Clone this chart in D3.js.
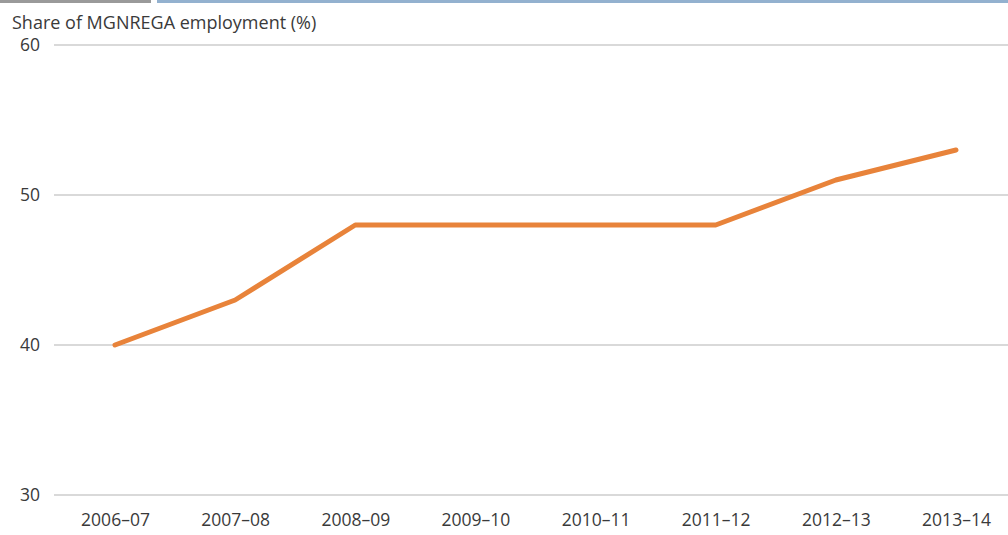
<!DOCTYPE html>
<html>
<head>
<meta charset="utf-8" />
<title>Share of MGNREGA employment</title>
<script src="https://d3js.org/d3.v7.min.js"></script>
<style>
  body { margin: 0; background: #fff; }
  svg text { font-family: "Open Sans", "Noto Sans", sans-serif; fill: #3a3a3a; }
</style>
</head>
<body>
<div id="chart"></div>
<script>
var years = ["2006–07", "2007–08", "2008–09", "2009–10", "2010–11", "2011–12", "2012–13", "2013–14"];
var share = [40, 43, 48, 48, 48, 48, 51, 53];
var yTicks = [30, 40, 50, 60];

var svg = d3.select("#chart").append("svg")
    .attr("width", 1008)
    .attr("height", 535);

// top decoration strips
svg.append("rect").attr("x", 0).attr("y", 0).attr("width", 151).attr("height", 3).attr("fill", "#9a9a9a");
svg.append("rect").attr("x", 157).attr("y", 0).attr("width", 851).attr("height", 3).attr("fill", "#93b1cf");

var x = d3.scalePoint().domain(years).range([115, 956]),
    y = d3.scaleLinear().domain([30, 60]).range([495, 45]);

// gridlines
svg.append("g").selectAll("line")
    .data(yTicks)
    .enter().append("line")
    .attr("x1", 54).attr("x2", 1008)
    .attr("y1", function (d) { return y(d); })
    .attr("y2", function (d) { return y(d); })
    .attr("stroke", "#b3b3b3")
    .attr("stroke-width", 1);

var yAxis = svg.append("g")
    .attr("transform", "translate(40,0)")
    .call(d3.axisLeft(y).tickValues(yTicks).tickSize(0).tickPadding(0));
yAxis.select(".domain").remove();
yAxis.selectAll("text").style("font-size", "17.5px").attr("fill", "#3a3a3a");

var xAxis = svg.append("g")
    .attr("transform", "translate(0,514)")
    .call(d3.axisBottom(x).tickSize(0).tickPadding(0));
xAxis.select(".domain").remove();
xAxis.selectAll("text").style("font-size", "17.5px").attr("fill", "#3a3a3a");

svg.append("text")
    .attr("x", 12).attr("y", 29)
    .style("font-size", "18px")
    .text("Share of MGNREGA employment (%)");

var line = d3.line()
    .x(function (d, i) { return x(years[i]); })
    .y(function (d) { return y(d); });

svg.append("path")
    .datum(share)
    .attr("d", line)
    .attr("fill", "none")
    .attr("stroke", "#e8833a")
    .attr("stroke-width", 5)
    .attr("stroke-linecap", "round")
    .attr("stroke-linejoin", "round");
</script>
</body>
</html>
